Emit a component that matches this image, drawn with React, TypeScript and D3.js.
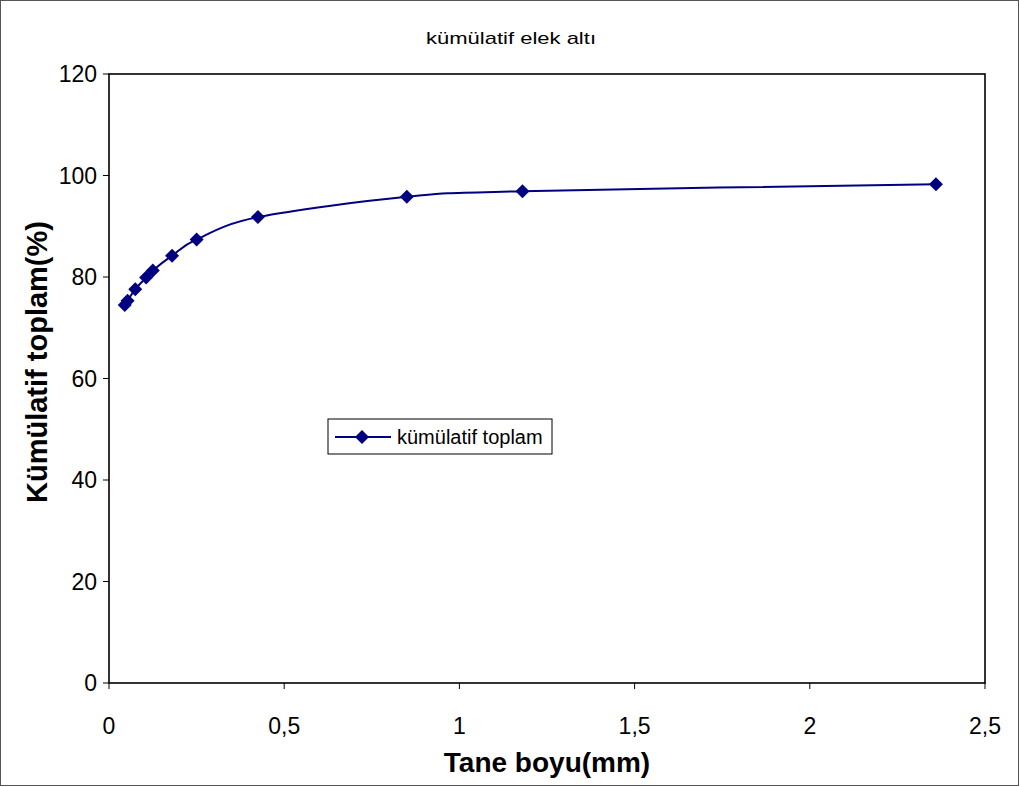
import React from "react";
import * as d3 from "d3";

const sizes = [0.045, 0.053, 0.075, 0.106, 0.125, 0.18, 0.25, 0.425, 0.85, 1.18, 2.36];
const cumulative = [74.5, 75.3, 77.6, 79.9, 81.3, 84.2, 87.4, 91.8, 95.8, 96.9, 98.3];
const xTicks = [0, 0.5, 1, 1.5, 2, 2.5];
const yTicks = [0, 20, 40, 60, 80, 100, 120];
const title = "kümülatif elek altı";
const xTitle = "Tane boyu(mm)";
const yTitle = "Kümülatif toplam(%)";
const seriesName = "kümülatif toplam";

const W = 1020;
const H = 787;
const left = 109, right = 985, top = 74, bottom = 683;
const font = "'Liberation Sans', Arial, sans-serif";
const navy = "#000080";

export default function App() {
  const x = d3.scaleLinear().domain([0, 2.5]).range([left, right]);
  const y = d3.scaleLinear().domain([0, 120]).range([bottom, top]);
  const pts: [number, number][] = sizes.map((s, i) => [x(s), y(cumulative[i])]);
  const line = d3.line().curve(d3.curveCardinal.tension(0))(pts) || "";
  const diamond = (cx: number, cy: number, r = 7) =>
    `M${cx},${cy - r}L${cx + r},${cy}L${cx},${cy + r}L${cx - r},${cy}Z`;
  const fmt = (v: number) => String(v).replace(".", ",");

  return (
    <svg width={W} height={H} style={{ position: "absolute", left: 0, top: 0 }}>
      <rect x={0} y={0} width={W} height={H} fill="#fff" />
      <rect x={0.5} y={0.5} width={W - 2} height={H - 2} fill="none" stroke="#555" strokeWidth={1} />
      <text x={511} y={44} textAnchor="middle" fontFamily={font} fontSize={17} textLength={170} lengthAdjust="spacingAndGlyphs" fill="#000">{title}</text>
      <rect x={left} y={top} width={right - left} height={bottom - top} fill="#fff" stroke="#000" strokeWidth={1.6} />
      {yTicks.map(t => (
        <g key={"y" + t}>
          <line x1={left - 6} x2={left} y1={y(t)} y2={y(t)} stroke="#000" strokeWidth={1} />
          <text x={left - 12} y={y(t) + 8} textAnchor="end" fontFamily={font} fontSize={23} fill="#000">{t}</text>
        </g>
      ))}
      {xTicks.map(t => (
        <g key={"x" + t}>
          <line x1={x(t)} x2={x(t)} y1={bottom} y2={bottom + 6} stroke="#000" strokeWidth={1} />
          <text x={x(t)} y={734} textAnchor="middle" fontFamily={font} fontSize={23} fill="#000">{fmt(t)}</text>
        </g>
      ))}
      <text x={547} y={772} textAnchor="middle" fontFamily={font} fontSize={28} fontWeight="bold" fill="#000">{xTitle}</text>
      <text transform={`translate(47,362) rotate(-90)`} textAnchor="middle" fontFamily={font} fontSize={29} fontWeight="bold" fill="#000">{yTitle}</text>
      <path d={line} fill="none" stroke={navy} strokeWidth={2} />
      {pts.map(([px, py], i) => (
        <path key={i} d={diamond(px, py)} fill={navy} />
      ))}
      <rect x={328} y={419} width={224} height={35} fill="#fff" stroke="#000" strokeWidth={1} />
      <line x1={335} x2={391} y1={437} y2={437} stroke={navy} strokeWidth={2} />
      <path d={diamond(362, 437)} fill={navy} />
      <text x={397} y={444} fontFamily={font} fontSize={20} fill="#000">{seriesName}</text>
    </svg>
  );
}
